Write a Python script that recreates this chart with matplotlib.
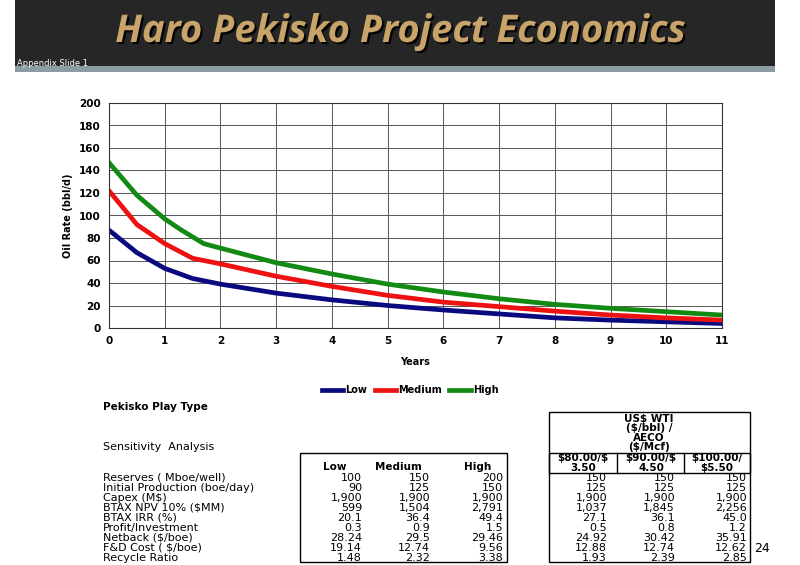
import matplotlib
matplotlib.use("Agg")
import matplotlib.pyplot as plt
import matplotlib.patheffects as pe
from matplotlib.patches import Rectangle

# decline curves
years = [0, 0.5, 1, 1.5, 2, 3, 4, 5, 6, 7, 8, 9, 10, 11]
low = [87, 67, 53, 44, 39, 31, 25, 20, 16, 12.5, 9, 7, 5.5, 4]
medium = [122, 92, 75, 62, 57, 46, 37, 29, 23, 19, 15, 11.5, 9, 7]
high_years = [0, 0.5, 1, 1.3, 1.7, 2, 3, 4, 5, 6, 7, 8, 9, 10, 11]
high = [147, 118, 97, 87, 75, 71, 58, 48, 39, 32, 26, 21, 17.5, 14.5, 11.5]

# table data
row_labels = ['Reserves ( Mboe/well)', 'Initial Production (boe/day)', 'Capex (M$)',
              'BTAX NPV 10% ($MM)', 'BTAX IRR (%)', 'Profit/Investment',
              'Netback ($/boe)', 'F&D Cost ( $/boe)', 'Recycle Ratio']
case_cols = ['Low', 'Medium', 'High']
case_low = ['100', '90', '1,900', '599', '20.1', '0.3', '28.24', '19.14', '1.48']
case_med = ['150', '125', '1,900', '1,504', '36.4', '0.9', '29.5', '12.74', '2.32']
case_high = ['200', '150', '1,900', '2,791', '49.4', '1.5', '29.46', '9.56', '3.38']
price_cols = ['$80.00/$\n3.50', '$90.00/$\n4.50', '$100.00/\n$5.50']
price_80 = ['150', '125', '1,900', '1,037', '27.1', '0.5', '24.92', '12.88', '1.93']
price_90 = ['150', '125', '1,900', '1,845', '36.1', '0.8', '30.42', '12.74', '2.39']
price_100 = ['150', '125', '1,900', '2,256', '45.0', '1.2', '35.91', '12.62', '2.85']

W, H = 800, 565
fig = plt.figure(figsize=(8, 5.65), dpi=100)


def fx(x):
    return x / W


def fy(y):
    return 1 - y / H


# header band
fig.patches.append(Rectangle((fx(15), fy(66)), fx(760), 66 / H, transform=fig.transFigure,
                             facecolor='#262626', edgecolor='none', zorder=0))
fig.patches.append(Rectangle((fx(15), fy(72)), fx(760), 6 / H, transform=fig.transFigure,
                             facecolor='#8a9ca4', edgecolor='none', zorder=0))
fig.text(fx(401), fy(32), 'Haro Pekisko Project Economics', ha='center', va='center',
         fontsize=27.5, fontweight='bold', style='italic', color='#c9a46a', family='Open Sans',
         path_effects=[pe.withSimplePatchShadow(offset=(1.5, -1.5), shadow_rgbFace='black', alpha=0.9)])
fig.text(fx(17), fy(63), 'Appendix Slide 1', ha='left', va='center', fontsize=6, color='white')

# chart
ax = fig.add_axes([fx(109), fy(328), 613 / W, 225 / H])
ax.plot(years, low, color='#0a0a80', lw=3.4, label='Low')
ax.plot(years, medium, color='#ee1111', lw=3.4, label='Medium')
ax.plot(high_years, high, color='#138a13', lw=3.4, label='High')
ax.set_xlim(0, 11)
ax.set_ylim(0, 200)
ax.set_xticks(range(0, 12))
ax.set_yticks(range(0, 201, 20))
ax.grid(True, color='#555555', lw=0.7)
ax.set_axisbelow(True)
for s in ax.spines.values():
    s.set_color('#333333')
ax.tick_params(labelsize=7.5, length=0, pad=6)
for t in ax.get_xticklabels() + ax.get_yticklabels():
    t.set_fontweight('bold')
ax.set_xlabel('Years', fontsize=7, fontweight='bold', labelpad=8)
ax.set_ylabel('Oil Rate (bbl/d)', fontsize=7, fontweight='bold', labelpad=4)
fig.legend(loc='center', bbox_to_anchor=(fx(410), fy(390)), ncol=3, frameon=False,
           handlelength=2.2, handletextpad=0.2, columnspacing=0.8,
           prop={'weight': 'bold', 'size': 7})

# tables
tfont = dict(fontsize=8, family='DejaVu Sans', va='center', parse_math=False)
hfont = dict(tfont, fontsize=7.5, fontweight='bold')
fig.text(fx(103), fy(407), 'Pekisko Play Type', ha='left', **hfont)
fig.text(fx(103), fy(447), 'Sensitivity  Analysis', ha='left', **tfont)

row_y = [478, 488, 498, 508, 518, 528, 538, 548, 558]
for lab, y in zip(row_labels, row_y):
    fig.text(fx(103), fy(y), lab, ha='left', **tfont)

# left table
fig.patches.append(Rectangle((fx(300), fy(562)), fx(207), 109 / H, transform=fig.transFigure,
                             facecolor='none', edgecolor='black', lw=1))
for name, cx in zip(case_cols, [335, 398, 478]):
    fig.text(fx(cx), fy(467), name, ha='center', **hfont)
for col, rx in zip([case_low, case_med, case_high], [362, 430, 503]):
    for v, y in zip(col, row_y):
        fig.text(fx(rx), fy(y), v, ha='right', **tfont)

# right table
fig.patches.append(Rectangle((fx(549), fy(562)), fx(201), 150 / H, transform=fig.transFigure,
                             facecolor='none', edgecolor='black', lw=1))
fig.patches.append(Rectangle((fx(549), fy(473)), fx(201), 20 / H, transform=fig.transFigure,
                             facecolor='none', edgecolor='black', lw=1))
for xd in [617, 684]:
    fig.lines.append(plt.Line2D([fx(xd), fx(xd)], [fy(453), fy(473)], transform=fig.transFigure,
                                color='black', lw=1))
fig.text(fx(649), fy(433), 'US$ WTI\n($/bbl) /\nAECO\n($/Mcf)', ha='center',
         linespacing=0.95, **hfont)
for name, cx in zip(price_cols, [583, 651, 717]):
    fig.text(fx(cx), fy(463), name, ha='center', linespacing=0.9, **hfont)
for col, rx in zip([price_80, price_90, price_100], [607, 675, 747]):
    for v, y in zip(col, row_y):
        fig.text(fx(rx), fy(y), v, ha='right', **tfont)

fig.text(fx(762), fy(548), '24', ha='center', va='center', fontsize=9)

fig.savefig('out.png', dpi=100)
